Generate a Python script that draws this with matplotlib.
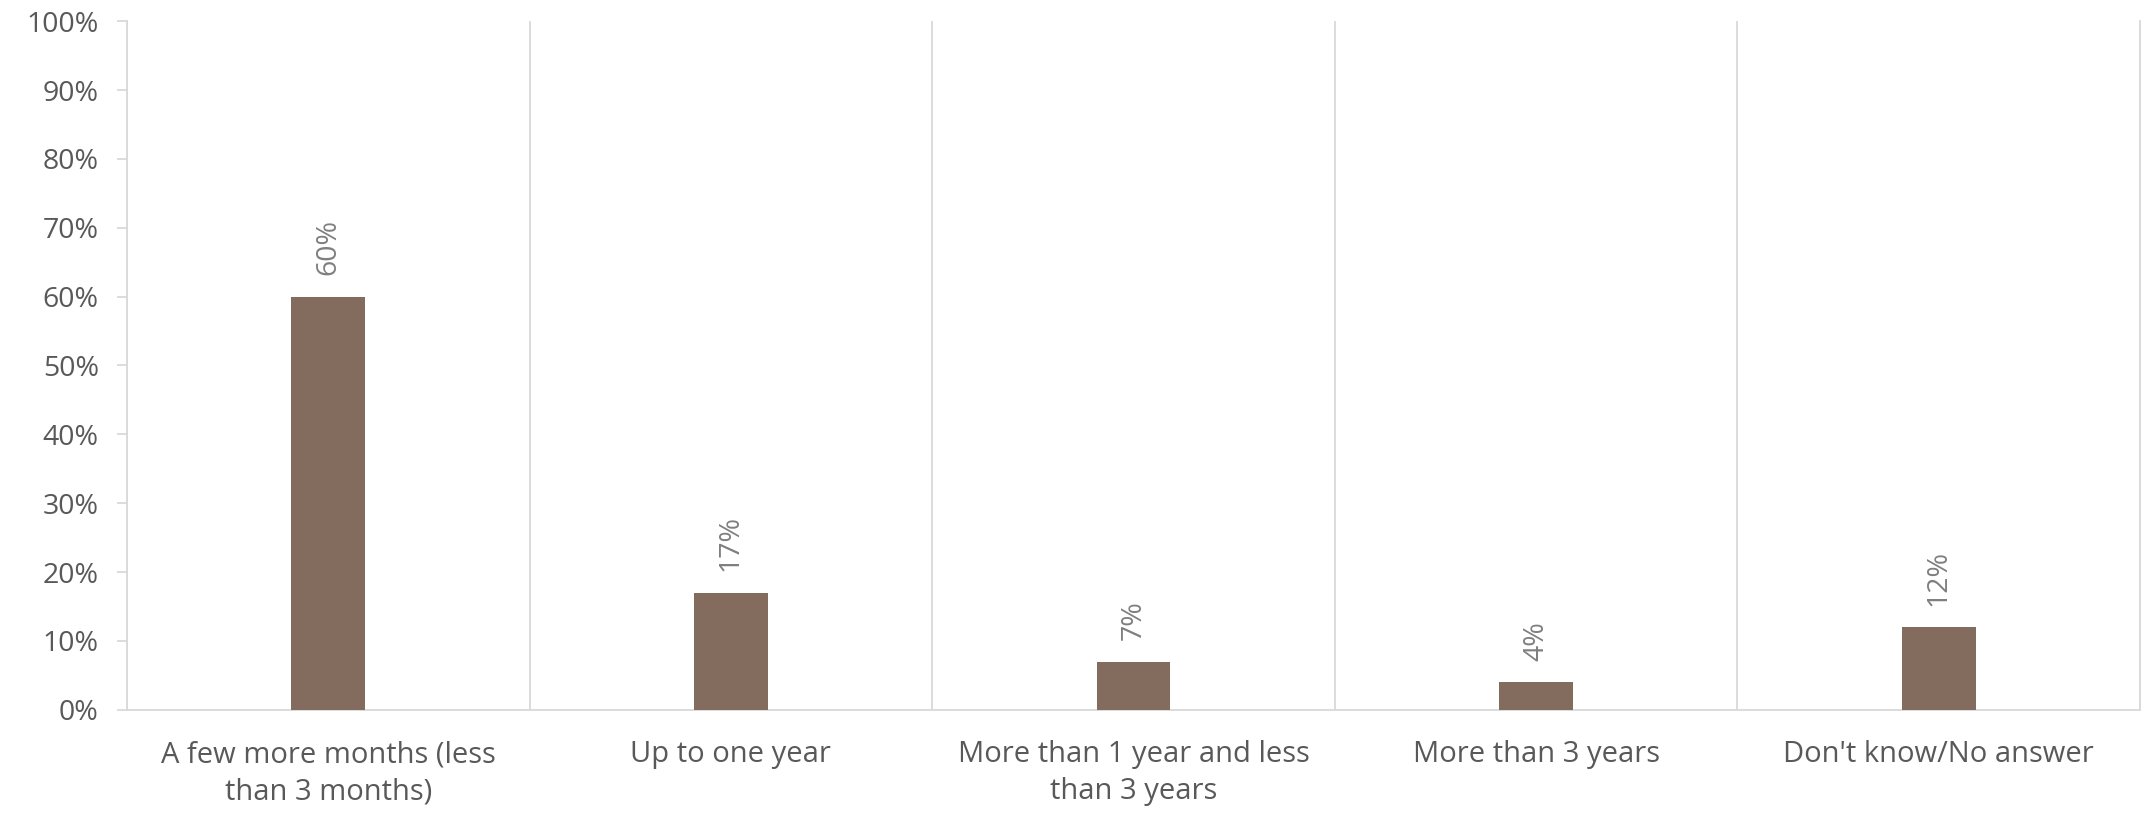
import matplotlib
matplotlib.use('Agg')
import matplotlib.pyplot as plt
from matplotlib.ticker import FuncFormatter, FixedLocator
import numpy as np

# data
categories = ['A few more months (less\nthan 3 months)', 'Up to one year',
              'More than 1 year and less\nthan 3 years', 'More than 3 years',
              "Don't know/No answer"]
values = [60, 17, 7, 4, 12]
y_ticks = [0, 10, 20, 30, 40, 50, 60, 70, 80, 90, 100]

bar_color = '#836B5D'
text_color = '#595959'
label_color = '#7F7F7F'
grid_color = '#D9D9D9'

plt.rcParams['font.family'] = ['Open Sans', 'DejaVu Sans']

fig = plt.figure(figsize=(21.51, 8.14), dpi=100)
ax = fig.add_axes([0.059, 0.128, 0.9359, 0.846])

x = np.arange(len(categories))
ax.bar(x, values, width=0.183, color=bar_color, zorder=3)

# data labels, rotated like the original
for xi, v in zip(x, values):
    ax.annotate('%d%%' % v, (xi, v), xytext=(0, 15.5), textcoords='offset points',
                rotation=90, ha='center', va='bottom', fontsize=20.5, color=label_color)

ax.set_xlim(-0.5, len(categories) - 0.5)
ax.set_ylim(0, 100)
ax.set_xticks(x)
ax.set_xticklabels(categories, fontsize=21, color=text_color, linespacing=1.35)
ax.set_yticks(y_ticks)
ax.yaxis.set_major_formatter(FuncFormatter(lambda v, p: '%d%%' % v))
ax.tick_params(axis='y', labelsize=20.5, labelcolor=text_color, color=grid_color,
               length=7.2, width=1.3, pad=13)
ax.tick_params(axis='x', length=0, pad=22)

# category separators
ax.xaxis.set_minor_locator(FixedLocator(np.arange(-0.5, len(categories), 1.0)))
ax.tick_params(axis='x', which='minor', length=0)
ax.grid(axis='x', which='minor', color=grid_color, lw=1.3, zorder=0)

for side in ['top']:
    ax.spines[side].set_visible(False)
for side in ['left', 'bottom', 'right']:
    ax.spines[side].set_color(grid_color)
    ax.spines[side].set_linewidth(1.3)

fig.savefig('out.png', dpi=100)
